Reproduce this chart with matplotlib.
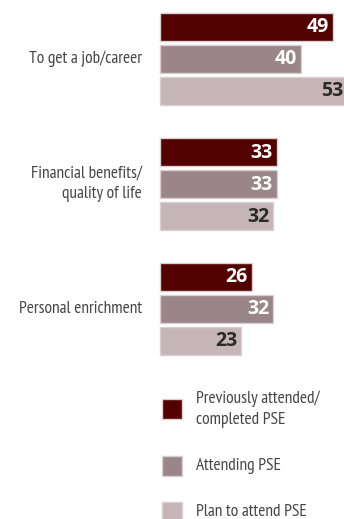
import matplotlib
matplotlib.use('Agg')
import matplotlib.pyplot as plt
from matplotlib.patches import Rectangle

plt.rcParams['font.family'] = ['PT Sans Narrow', 'Open Sans', 'DejaVu Sans']

# ── DATA ─────────────────────────────────────────────────────────────────────
REASONS = ['To get a job/career', 'Financial benefits/\nquality of life', 'Personal enrichment']
SERIES = ['Previously attended/\ncompleted PSE', 'Attending PSE', 'Plan to attend PSE']
PREVIOUS = [49, 33, 26]
ATTENDING = [40, 33, 32]
PLANNING = [53, 32, 23]

COLORS = ['#520000', '#9a8589', '#c6b5b8']
LABEL_COLORS = ['white', 'white', '#2a2a2a']
TEXT = '#454545'

W, H = 344, 519
fig = plt.figure(figsize=(W / 100, H / 100), dpi=100)

# bar axes: pixel-like y coordinates, x in percent
ax = fig.add_axes([160 / W, 0, (W - 160) / W, 1])
ax.set_xlim(0, 52.1)
ax.set_ylim(H, 0)
ax.axis('off')

group_centers = [59, 184, 309]
offsets = [-32, 0, 32]
bar_h = 28

for s, values in enumerate([PREVIOUS, ATTENDING, PLANNING]):
    ys = [c + offsets[s] for c in group_centers]
    ax.barh(ys, values, height=bar_h, color=COLORS[s], edgecolor='#d8d0d2',
            linewidth=1, clip_on=False)
    for y, v in zip(ys, values):
        ax.text(v - 1.1, y + 0.5, str(v), ha='right', va='center', fontsize=14,
                fontweight='bold', family=['Open Sans', 'DejaVu Sans'],
                color=LABEL_COLORS[s])

for c, reason in zip(group_centers, REASONS):
    fig.text(142 / W, 1 - c / H, reason, ha='right', va='center', fontsize=12.5,
             color=TEXT, linespacing=1.4)

# legend
legend_y = [409, 466, 512]
for s, (y, name) in enumerate(zip(legend_y, SERIES)):
    fig.patches.append(Rectangle((162 / W, 1 - (y + 10) / H), 20 / W, 20 / H,
                                 transform=fig.transFigure, facecolor=COLORS[s],
                                 edgecolor='#d8d0d2', linewidth=1))
    fig.text(196 / W, 1 - y / H, name, ha='left', va='center', fontsize=12.5,
             color=TEXT, linespacing=1.4)

fig.savefig('out.png', dpi=100)
